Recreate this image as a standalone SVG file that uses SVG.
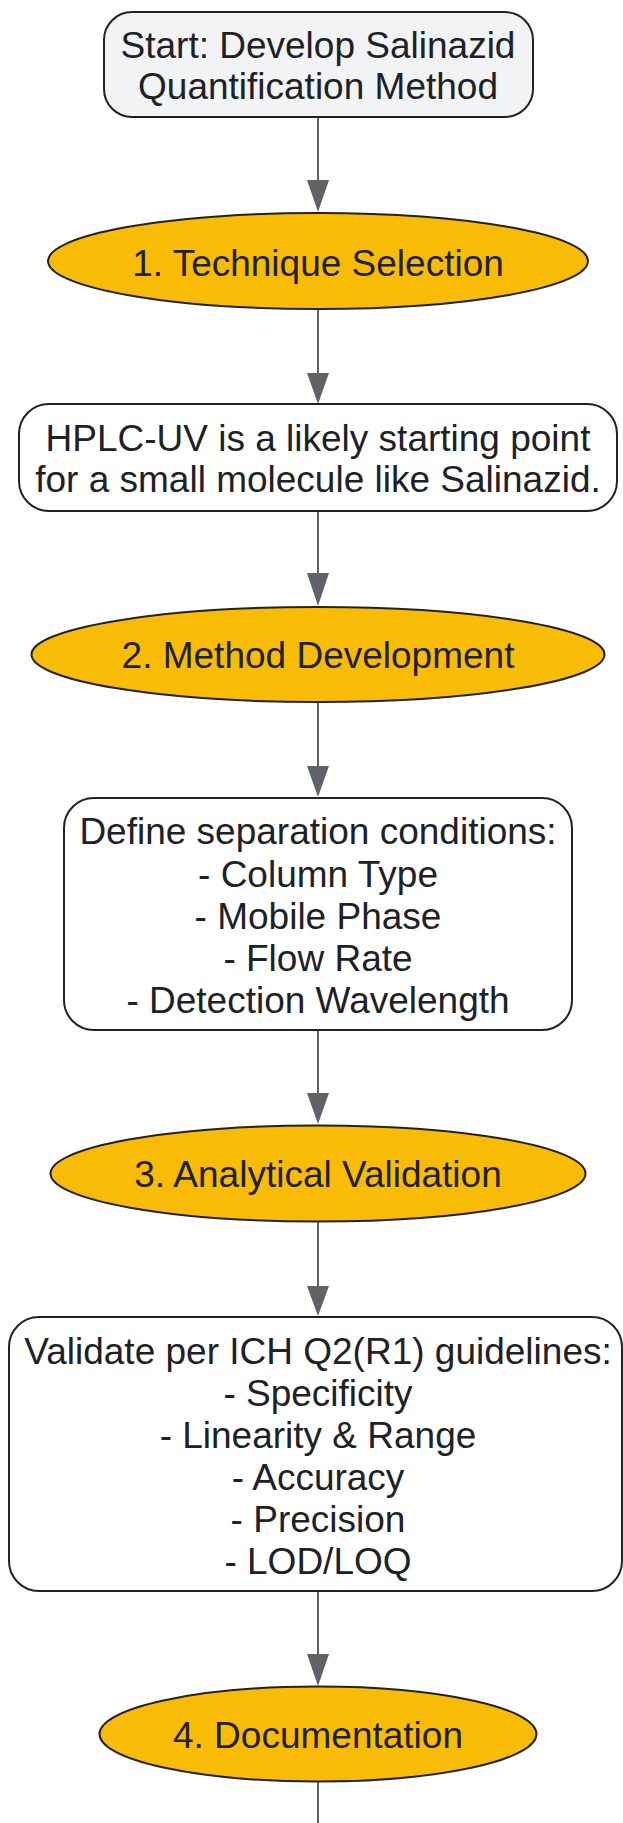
<svg xmlns="http://www.w3.org/2000/svg" width="623" height="1823" viewBox="0 0 623 1823">
<defs>
<style>
.box{fill:#ffffff;stroke:#222222;stroke-width:2}
.start{fill:#f1f3f5;stroke:#222222;stroke-width:2}
.oval{fill:#f9bc06;stroke:#222222;stroke-width:2}
.t{font-family:"Liberation Sans",Arial,sans-serif;font-size:37px;fill:#202124;text-anchor:middle}
.edge{stroke:#5f6368;stroke-width:2;fill:none}
.head{fill:#5f6368}
</style>
</defs>
<rect width="623" height="1823" fill="#ffffff"/>
<g id="connectors">
<line class="edge" x1="318" y1="117" x2="318" y2="182"/>
<polygon class="head" points="307,180 329,180 318,212"/>
<line class="edge" x1="318" y1="309" x2="318" y2="375"/>
<polygon class="head" points="307,373 329,373 318,404"/>
<line class="edge" x1="318" y1="511" x2="318" y2="575"/>
<polygon class="head" points="307,573 329,573 318,606"/>
<line class="edge" x1="318" y1="702" x2="318" y2="768"/>
<polygon class="head" points="307,766 329,766 318,797"/>
<line class="edge" x1="318" y1="1030" x2="318" y2="1095"/>
<polygon class="head" points="307,1093 329,1093 318,1124"/>
<line class="edge" x1="318" y1="1222" x2="318" y2="1288"/>
<polygon class="head" points="307,1286 329,1286 318,1316"/>
<line class="edge" x1="318" y1="1591" x2="318" y2="1656"/>
<polygon class="head" points="307,1654 329,1654 318,1686"/>
<line class="edge" x1="318" y1="1782" x2="318" y2="1823"/>
</g>
<g id="start">
<rect class="start" x="104" y="12" width="429" height="105" rx="28"/>
<text class="t" x="318" y="58">Start: Develop Salinazid</text>
<text class="t" x="318" y="99">Quantification Method</text>
</g>
<g id="step1">
<ellipse class="oval" cx="318" cy="261" rx="270" ry="48"/>
<text class="t" x="318" y="276">1. Technique Selection</text>
</g>
<g id="hplc">
<rect class="box" x="19" y="404" width="598" height="107" rx="30"/>
<text class="t" x="318" y="451">HPLC-UV is a likely starting point</text>
<text class="t" x="318" y="492">for a small molecule like Salinazid.</text>
</g>
<g id="step2">
<ellipse class="oval" cx="318" cy="654.5" rx="286.5" ry="47.5"/>
<text class="t" x="318" y="668">2. Method Development</text>
</g>
<g id="conditions">
<rect class="box" x="64" y="798" width="508" height="232" rx="30"/>
<text class="t" x="318" y="844">Define separation conditions:</text>
<text class="t" x="318" y="886.5">- Column Type</text>
<text class="t" x="318" y="928.5">- Mobile Phase</text>
<text class="t" x="318" y="970.5">- Flow Rate</text>
<text class="t" x="318" y="1012.5">- Detection Wavelength</text>
</g>
<g id="step3">
<ellipse class="oval" cx="318" cy="1173.5" rx="267.5" ry="48"/>
<text class="t" x="318" y="1187">3. Analytical Validation</text>
</g>
<g id="validation">
<rect class="box" x="9" y="1317" width="613" height="274" rx="30"/>
<text class="t" x="318" y="1363.5">Validate per ICH Q2(R1) guidelines:</text>
<text class="t" x="318" y="1405.5">- Specificity</text>
<text class="t" x="318" y="1447.5">- Linearity &amp; Range</text>
<text class="t" x="318" y="1489.5">- Accuracy</text>
<text class="t" x="318" y="1531.5">- Precision</text>
<text class="t" x="318" y="1573.5">- LOD/LOQ</text>
</g>
<g id="step4">
<ellipse class="oval" cx="318" cy="1734" rx="218.5" ry="47.5"/>
<text class="t" x="318" y="1748">4. Documentation</text>
</g>
</svg>
